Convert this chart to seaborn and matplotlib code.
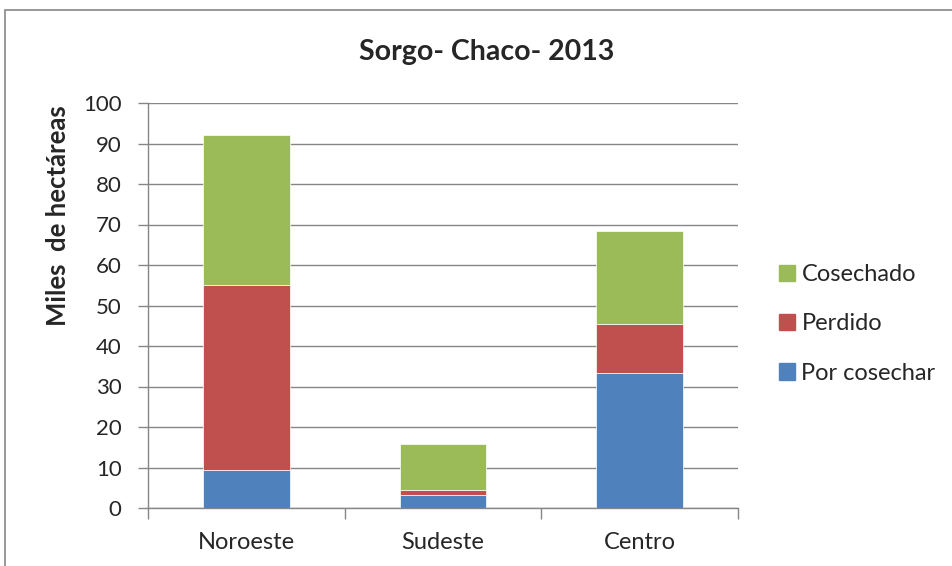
import matplotlib
matplotlib.use("Agg")
import matplotlib.pyplot as plt
import seaborn as sns
import pandas as pd
from matplotlib.patches import Patch, Rectangle

categories = ["Noroeste", "Sudeste", "Centro"]
por_cosechar = [9.5, 3.2, 33.3]
perdido = [45.6, 1.3, 12.1]
cosechado = [36.9, 11.3, 23.0]

sns.set_theme(style="white")
plt.rcParams['font.family'] = ['Lato', 'DejaVu Sans']

df = pd.DataFrame({"cat": categories, "blue": por_cosechar, "red": perdido, "green": cosechado})
df["bottom_red"] = df["blue"]
df["bottom_green"] = df["blue"] + df["red"]

fig = plt.figure(figsize=(9.53, 5.66), dpi=100)
ax = fig.add_axes([148/953, 1-508/566, 590/953, 405/566])

c_blue, c_red, c_green = "#4F81BD", "#C0504D", "#9BBB59"
sns.barplot(data=df, x="cat", y="blue", color=c_blue, width=0.44, ax=ax,
            saturation=1, edgecolor="white", linewidth=0.5)
sns.barplot(data=df, x="cat", y="red", bottom=df["bottom_red"], color=c_red, width=0.44, ax=ax,
            saturation=1, edgecolor="white", linewidth=0.5)
sns.barplot(data=df, x="cat", y="green", bottom=df["bottom_green"], color=c_green, width=0.44, ax=ax,
            saturation=1, edgecolor="white", linewidth=0.5)

ax.set_ylim(0, 100)
ax.set_xlim(-0.5, 2.5)
ax.set_yticks(range(0, 101, 10))
ax.yaxis.grid(True, color="#868686", linewidth=1)
ax.set_axisbelow(True)
for s in ["top", "right"]:
    ax.spines[s].set_visible(False)
for s in ["left", "bottom"]:
    ax.spines[s].set_color("#868686")
    ax.spines[s].set_linewidth(1)

ax.set_xticks([-0.5, 0.5, 1.5, 2.5], minor=False)
ax.set_xticklabels([])
ax.set_xticks([0, 1, 2], minor=True)
ax.set_xticklabels(categories, minor=True, fontsize=17)
ax.tick_params(axis="x", which="major", bottom=True, length=8, color="#868686", width=1)
ax.tick_params(axis="x", which="minor", bottom=False, length=0, pad=17)
ax.tick_params(axis="y", left=True, length=7, color="#868686", width=1, labelsize=16, pad=12)
ax.set_xlabel("")
ax.set_ylabel("Miles  de hectáreas", fontsize=18.5, fontweight="bold")
ax.yaxis.set_label_coords((70 - 148) / 590, (508 - 216) / 405)

fig.text(0.511, 1-52/566, "Sorgo- Chaco- 2013", ha="center", va="center",
         fontsize=20.5, fontweight="bold")

handles = [Patch(color=c_green, label="Cosechado"),
           Patch(color=c_red, label="Perdido"),
           Patch(color=c_blue, label="Por cosechar")]
fig.legend(handles=handles, loc="center left", bbox_to_anchor=(770/953, 1-324/566),
           frameon=False, fontsize=17, handlelength=0.68, handleheight=0.68,
           handletextpad=0.25, labelspacing=1.2, borderaxespad=0, borderpad=0.4)

fig.patches.append(Rectangle((5/953, -0.01), 1.0, 1-10/566 + 0.01, transform=fig.transFigure,
                             fill=False, edgecolor="#868686", linewidth=1.2))

fig.savefig("out.png", dpi=100)
